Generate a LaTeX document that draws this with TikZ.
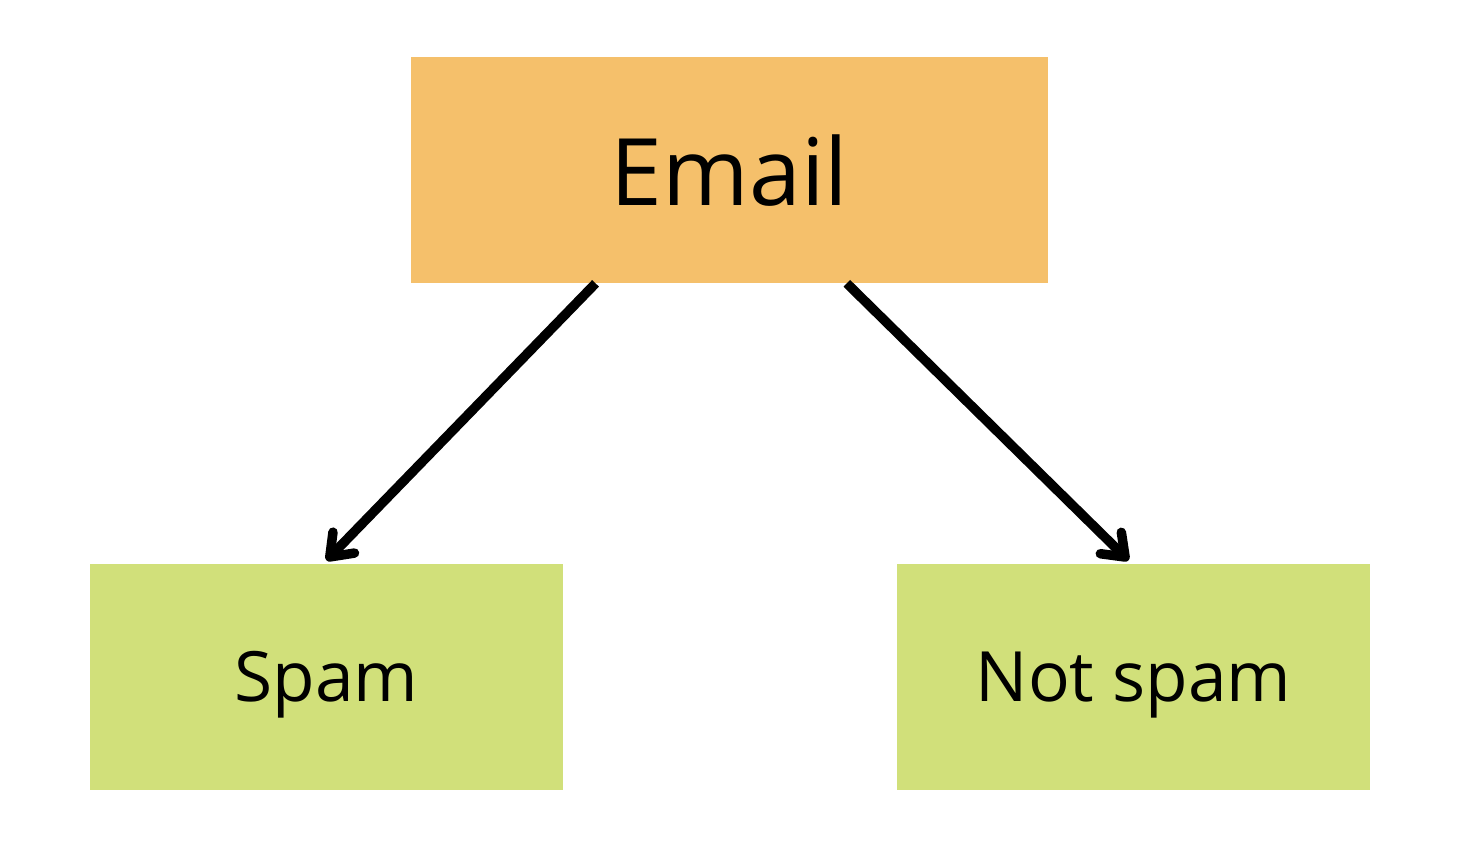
\documentclass[tikz,border=0pt]{standalone}
\usepackage{fontspec}
\setmainfont{Open Sans}
\usetikzlibrary{positioning, arrows.meta, calc}
\definecolor{emailorange}{HTML}{F5C06B}
\definecolor{classgreen}{HTML}{D1E07A}

\begin{document}
\begin{tikzpicture}[
		node distance=5.6cm,
		inputbox/.style={fill=emailorange, minimum width=12.74cm, minimum height=4.52cm, inner sep=0pt, text depth=0pt, font=\fontsize{53}{58}\selectfont},
		classbox/.style={fill=classgreen, minimum width=9.46cm, minimum height=4.52cm, inner sep=0pt, text depth=0pt, font=\fontsize{39.5}{44}\selectfont},
		arrow/.style={-{Straight Barb[length=0.4cm, width=0.6cm, round]}, line width=0.19cm}
		]
		\useasboundingbox (-14.59,3.4) rectangle (14.73,-13.56);
		% Email and its two classes

		\node[inputbox] (email) at (0,0) {Email};
		\node[classbox, below=of email, xshift=-8.06cm] (spam) {Spam};
		\node[classbox, below=of email, xshift=8.08cm] (notspam) {Not spam};

		\coordinate (emailleft) at ($(email.south west)!0.29!(email.south east)$);
		\coordinate (emailright) at ($(email.south west)!0.684!(email.south east)$);

		\draw[arrow] (emailleft) -- ([yshift=0.06cm]spam.north);
		\draw[arrow] (emailright) -- ([xshift=-0.1cm, yshift=0.06cm]notspam.north);

	\end{tikzpicture}
\end{document}
